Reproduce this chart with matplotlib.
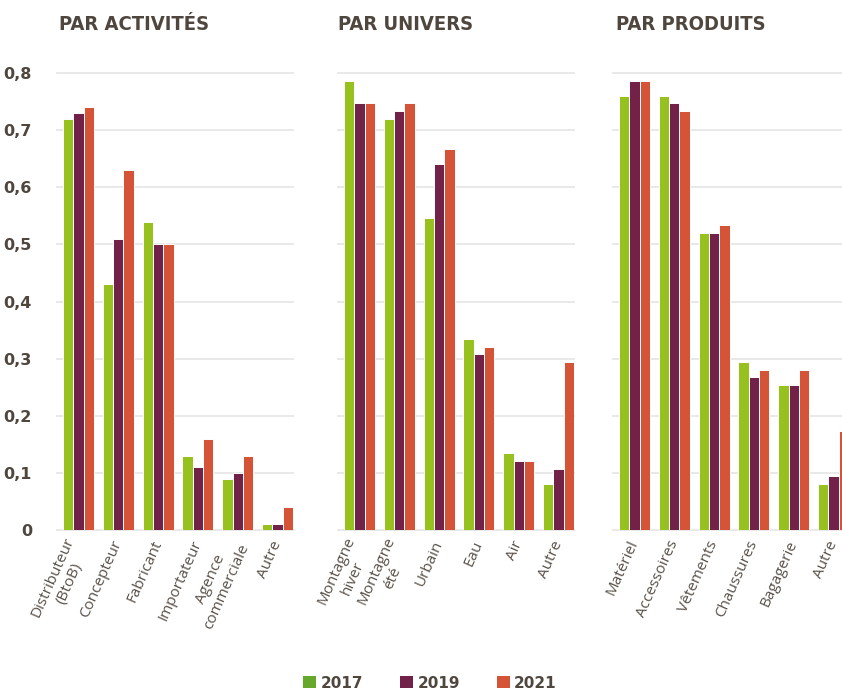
import matplotlib
matplotlib.use("Agg")
import matplotlib.pyplot as plt
from matplotlib.patches import Patch
from matplotlib import font_manager
import numpy as np

titles = ["PAR ACTIVITÉS", "PAR UNIVERS", "PAR PRODUITS"]
years = ["2017", "2019", "2021"]

cats_act = ["Distributeur\n(BtoB)", "Concepteur", "Fabricant", "Importateur", "Agence\ncommerciale", "Autre"]
act_2017 = [0.72, 0.43, 0.54, 0.13, 0.09, 0.01]
act_2019 = [0.73, 0.51, 0.50, 0.11, 0.10, 0.01]
act_2021 = [0.74, 0.63, 0.50, 0.16, 0.13, 0.04]

cats_univ = ["Montagne\nhiver", "Montagne\nété", "Urbain", "Eau", "Air", "Autre"]
univ_2017 = [0.786, 0.72, 0.546, 0.334, 0.135, 0.08]
univ_2019 = [0.748, 0.734, 0.641, 0.308, 0.121, 0.107]
univ_2021 = [0.748, 0.748, 0.667, 0.32, 0.121, 0.294]

cats_prod = ["Matériel", "Accessoires", "Vêtements", "Chaussures", "Bagagerie", "Autre"]
prod_2017 = [0.76, 0.76, 0.52, 0.294, 0.254, 0.08]
prod_2019 = [0.786, 0.748, 0.52, 0.268, 0.254, 0.094]
prod_2021 = [0.786, 0.734, 0.534, 0.28, 0.28, 0.173]

yticks = [0, 0.1, 0.2, 0.3, 0.4, 0.5, 0.6, 0.7, 0.8]
ytick_labels = ["0", "0,1", "0,2", "0,3", "0,4", "0,5", "0,6", "0,7", "0,8"]

colors = ["#96c11f", "#722249", "#d55336"]
legend_colors = ["#64a82c", "#722249", "#d55336"]
text_col = "#4f463e"

# pick a condensed bold family for the titles if available
names = {f.name for f in font_manager.fontManager.ttflist}
if "Liberation Sans Narrow" in names:
    title_family = ["Liberation Sans Narrow", "DejaVu Sans"]
    title_stretch = "normal"
else:
    title_family = ["DejaVu Sans"]
    title_stretch = "condensed"

W, H = 842, 691
fig = plt.figure(figsize=(W / 100, H / 100), dpi=100)

panels = [
    (cats_act, [act_2017, act_2019, act_2021]),
    (cats_univ, [univ_2017, univ_2019, univ_2021]),
    (cats_prod, [prod_2017, prod_2019, prod_2021]),
]
lefts_px = [57, 338, 613]
width_px = 236
bottom_px, top_px = 530, 73
ymax = 0.8
title_x_px = [59, 338, 616]

bw = 0.26
for i, (cats, series) in enumerate(panels):
    ax = fig.add_axes([lefts_px[i] / W, 1 - bottom_px / H, width_px / W, (bottom_px - top_px) / H])
    x = np.arange(len(cats))
    for j, vals in enumerate(series):
        ax.bar(x + (j - 1) * bw, vals, width=bw, color=colors[j], edgecolor="white",
               linewidth=0.7, zorder=3)
    ax.set_xlim(-0.54, 5.39)
    ax.set_ylim(0, ymax)
    ax.set_yticks(yticks)
    for y in yticks:
        ax.axhline(y, color="#e9e9e9", linewidth=1.4, zorder=1, clip_on=False)
    for s in ax.spines.values():
        s.set_visible(False)
    ax.tick_params(axis="both", length=0)
    if i == 0:
        ax.set_yticklabels(ytick_labels, fontsize=11.5, fontweight="bold", color=text_col)
        ax.tick_params(axis="y", pad=18)
    else:
        ax.set_yticklabels([])
    ax.set_xticks(x)
    ax.set_xticklabels(cats, rotation=66, ha="right", va="center", rotation_mode="anchor",
                       multialignment="center", fontsize=11, color="#5a5149",
                       family=["Open Sans", "DejaVu Sans"])
    ax.tick_params(axis="x", pad=8)
    fig.text(title_x_px[i] / W, 1 - 24 / H, titles[i], fontsize=14.5, fontweight="bold",
             fontstretch=title_stretch,
             color=text_col, family=title_family, ha="left", va="center")

handles = [Patch(facecolor=c, edgecolor="none") for c in legend_colors]
fig.legend(handles, years, loc="center", bbox_to_anchor=(430 / W, 1 - 683 / H), ncol=3,
           frameon=False, prop={"weight": "bold", "size": 11}, labelcolor=text_col,
           handlelength=0.85, handleheight=0.85, handletextpad=0.3, columnspacing=2.4,
           borderpad=0.1)

fig.savefig("out.png", dpi=100)
